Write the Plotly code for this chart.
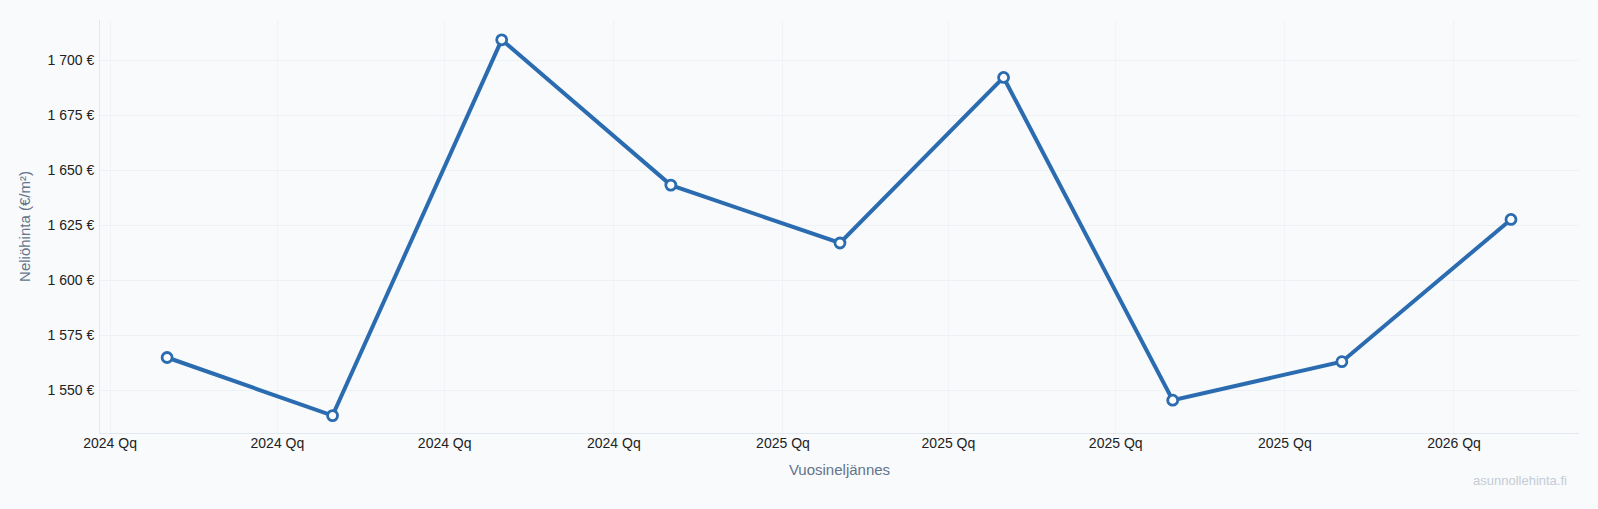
import plotly.graph_objects as go

# Data
dates = ["2024-02-01", "2024-05-01", "2024-08-01", "2024-11-01",
         "2025-02-01", "2025-05-01", "2025-08-01", "2025-11-01", "2026-02-01"]
prices = [1564.9, 1538.5, 1709.2, 1643.2, 1616.9, 1692.1, 1545.5, 1563.0, 1627.6]

line_color = "#2b6cb0"
bg = "#f8fafc"

fig = go.Figure()
fig.add_trace(go.Scatter(
    x=dates, y=prices, mode="lines+markers",
    line=dict(color=line_color, width=4),
    marker=dict(size=10, color="white", line=dict(color=line_color, width=2.8)),
    showlegend=False,
))

fig.update_layout(
    width=1598, height=509,
    paper_bgcolor=bg, plot_bgcolor=bg,
    margin=dict(l=99.5, r=18.7, t=20, b=76.3),
    separators=", ",
    font=dict(family="Liberation Sans, Arial, sans-serif", size=14, color="#222222"),
    xaxis=dict(
        type="date",
        range=["2023-12-26 12:00", "2026-03-10"],
        tick0="2024-01-01", dtick="M3",
        tickformat="%Y Qq",
        showgrid=True, gridcolor="#f0f3f7", gridwidth=1,
        showline=True, linecolor="#e2e8f0", linewidth=1,
        zeroline=False, ticks="",
        ticklabelstandoff=-3,
        tickfont=dict(size=14, color="#222222"),
        title=dict(text="Vuosineljännes", font=dict(size=15, color="#64748b"), standoff=14),
    ),
    yaxis=dict(
        range=[1530.6, 1718.2],
        tick0=1550, dtick=25,
        tickformat=",.0f", ticksuffix=" €",
        showgrid=True, gridcolor="#eef1f5", gridwidth=1,
        showline=True, linecolor="#e2e8f0", linewidth=1,
        zeroline=False, ticks="",
        ticklabelstandoff=2,
        tickfont=dict(size=14, color="#222222"),
        title=dict(text="Neliöhinta (€/m²)", font=dict(size=15, color="#64748b"), standoff=13),
    ),
    annotations=[dict(
        text="asunnollehinta.fi", xref="paper", yref="paper",
        x=1.0, y=-0.115, xanchor="right", yanchor="middle", showarrow=False,
        xshift=-10,
        font=dict(size=13, color="#c5ccd6"),
    )],
)

fig.write_html("out.html")
